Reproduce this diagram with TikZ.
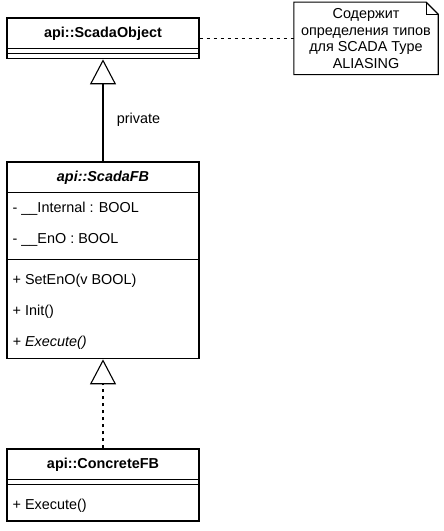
\documentclass[tikz,border=0pt]{standalone}
\usepackage{fontspec}
\setmainfont{Liberation Sans}
\usetikzlibrary{arrows.meta, positioning}

\begin{document}
\begin{tikzpicture}[x=1pt, y=1pt,
    every node/.style={font=\fontsize{14.4}{16.7}\selectfont, text=black},
    classbox/.style={draw, line width=1.1pt, minimum width=192pt, inner sep=0pt},
    member/.style={anchor=west, inner sep=0pt},
    inherit/.style={line width=1.1pt, -{Triangle[open, length=25pt, width=26pt]}},
    realize/.style={inherit, dash pattern=on 3.5pt off 3.5pt},
    notelink/.style={line width=1.1pt, dash pattern=on 3.5pt off 3.5pt}]
    \useasboundingbox (0,0) rectangle (444,531);

    % api::ScadaObject
    \node [classbox, minimum height=40.8pt] (obj) at (103,492.6) {};
    \node [font=\fontsize{14.4}{16.7}\selectfont\bfseries] (objname) at (103,497.4) {api::ScadaObject};
    \draw [line width=1.1pt] ([yshift=-31.2pt]obj.north west) -- ([yshift=-31.2pt]obj.north east);
    \draw [line width=1.1pt] ([yshift=-36pt]obj.north west) -- ([yshift=-36pt]obj.north east);

    % api::ScadaFB
    \node [classbox, minimum height=196.8pt] (fb) at (103,270.6) {};
    \node [font=\fontsize{14.4}{16.7}\selectfont\bfseries\itshape] (fbname) at (103,353.4) {api::ScadaFB};
    \draw [line width=1.1pt] ([yshift=-31.2pt]fb.north west) -- ([yshift=-31.2pt]fb.north east);
    \node [member] (fbint) at (12.5,322.2) {- \_\_Internal : BOOL};
    \node [member] (fbeno) at (12.5,291) {- \_\_EnO : BOOL};
    \draw [line width=1.1pt] ([yshift=-98.4pt]fb.north west) -- ([yshift=-98.4pt]fb.north east);
    \node [member] (fbset) at (12.5,250.2) {+ SetEnO(v BOOL)};
    \node [member] (fbinit) at (12.5,219) {+ Init()};
    \node [member, font=\fontsize{14.4}{16.7}\selectfont\itshape] (fbexec) at (12.5,187.8) {+ Execute()};

    % api::ConcreteFB
    \node [classbox, minimum height=72pt] (cfb) at (103,46) {};
    \node [font=\fontsize{14.4}{16.7}\selectfont\bfseries] (cfbname) at (103,66.4) {api::ConcreteFB};
    \draw [line width=1.1pt] ([yshift=-31.2pt]cfb.north west) -- ([yshift=-31.2pt]cfb.north east);
    \draw [line width=1.1pt] ([yshift=-36pt]cfb.north west) -- ([yshift=-36pt]cfb.north east);
    \node [member] (cfbexec) at (12.5,25.6) {+ Execute()};

    % note
    \node [minimum width=144pt, minimum height=72pt, align=center, inner sep=0pt] (note) at (366,492.6)
        {Содержит\\определения типов\\для SCADA Type\\ALIASING};
    \draw [line width=1.1pt] (note.north west) -- ([xshift=-12pt]note.north east)
        -- ([yshift=-12pt]note.north east) -- (note.south east) -- (note.south west) -- cycle;
    \draw [line width=1.1pt] ([xshift=-12pt]note.north east) -- ([xshift=-12pt, yshift=-12pt]note.north east)
        -- ([yshift=-12pt]note.north east);

    % connectors
    \draw [inherit] (fb.north) -- node [pos=0.41, right, xshift=10pt] (priv) {private} (obj.south);
    \draw [realize] (cfb.north) -- (fb.south);
    \draw [notelink] (obj.east) -- (note.west);
\end{tikzpicture}
\end{document}
